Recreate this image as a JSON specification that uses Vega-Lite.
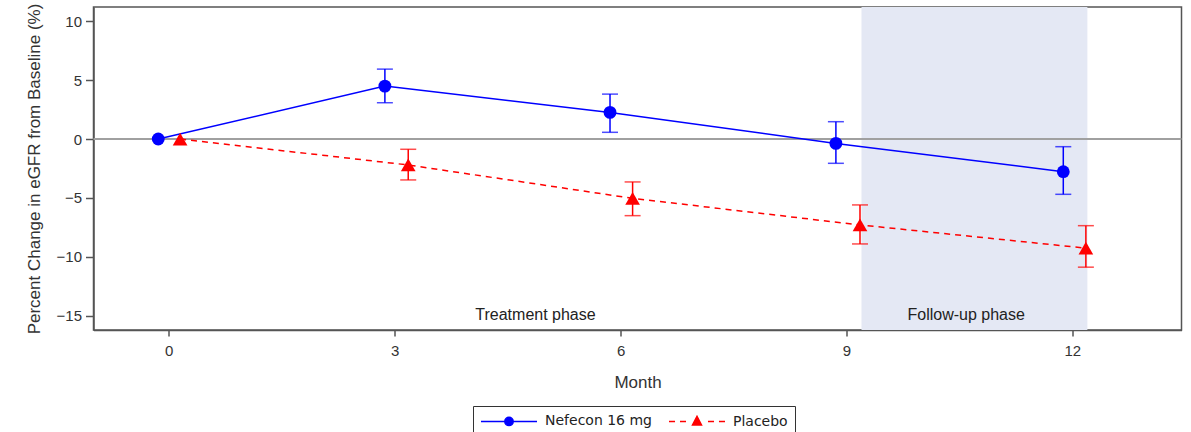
{
  "$schema": "https://vega.github.io/schema/vega-lite/v6.json",
  "width": 1088,
  "height": 323,
  "autosize": "none",
  "padding": {"left": 93.5, "top": 7, "right": 9, "bottom": 102},
  "background": "white",
  "config": {
    "view": {"stroke": "#555", "strokeWidth": 1.5},
    "font": "Liberation Sans",
    "axis": {"grid": false, "domainColor": "#555", "domainWidth": 1.5, "tickColor": "#555", "tickWidth": 1.5, "labelColor": "#333", "titleColor": "#333", "labelFont": "Liberation Sans", "titleFont": "Liberation Sans", "titleFontWeight": "normal", "labelFontSize": 15},
    "axisX": {"tickSize": 6, "labelPadding": 7, "titleFontSize": 17, "titlePadding": 16, "labelFlush": false},
    "axisY": {"tickSize": 8, "labelPadding": 4, "titleFontSize": 17, "titlePadding": 13}
  },
  "datasets": {
    "stats": [
      {"series": "Nefecon 16 mg", "month": 0, "x": -0.14, "y": 0, "lo": null, "hi": null},
      {"series": "Nefecon 16 mg", "month": 3, "x": 2.87, "y": 4.49, "lo": 3.08, "hi": 5.93},
      {"series": "Nefecon 16 mg", "month": 6, "x": 5.86, "y": 2.26, "lo": 0.57, "hi": 3.81},
      {"series": "Nefecon 16 mg", "month": 9, "x": 8.86, "y": -0.37, "lo": -2.06, "hi": 1.47},
      {"series": "Nefecon 16 mg", "month": 12, "x": 11.88, "y": -2.77, "lo": -4.69, "hi": -0.65},
      {"series": "Placebo", "month": 0, "x": 0.15, "y": 0, "lo": null, "hi": null},
      {"series": "Placebo", "month": 3, "x": 3.18, "y": -2.2, "lo": -3.47, "hi": -0.87},
      {"series": "Placebo", "month": 6, "x": 6.16, "y": -5.03, "lo": -6.5, "hi": -3.64},
      {"series": "Placebo", "month": 9, "x": 9.18, "y": -7.29, "lo": -8.9, "hi": -5.59},
      {"series": "Placebo", "month": 12, "x": 12.18, "y": -9.26, "lo": -10.87, "hi": -7.35}
    ],
    "phase": [{"x": 9.2, "x_end": 12.2}],
    "labels": [
      {"label": "Treatment phase", "x": 4.87, "y": -14.95},
      {"label": "Follow-up phase", "x": 10.59, "y": -14.95}
    ]
  },
  "layer": [
    {
      "data": {"name": "phase"},
      "mark": {"type": "rect", "color": "#e4e8f4"},
      "encoding": {
        "x": {"field": "x", "type": "quantitative", "title": "Month", "scale": {"domain": [-1, 13.45], "nice": false, "zero": false}, "axis": {"values": [0, 3, 6, 9, 12]}},
        "x2": {"field": "x_end"}
      }
    },
    {
      "data": {"name": "phase"},
      "mark": {"type": "rule", "color": "#a0a0a0", "strokeWidth": 2},
      "encoding": {
        "y": {"datum": 0, "type": "quantitative", "title": "Percent Change in eGFR from Baseline (%)", "scale": {"domain": [-16.2, 11.2], "nice": false, "zero": false}, "axis": {"values": [-15, -10, -5, 0, 5, 10]}}
      }
    },
    {
      "data": {"name": "stats"},
      "transform": [{"filter": "datum.series == 'Nefecon 16 mg'"}],
      "mark": {"type": "line", "color": "#0000ff", "strokeWidth": 1.5},
      "encoding": {
        "x": {"field": "x", "type": "quantitative", "title": "Month", "scale": {"domain": [-1, 13.45], "nice": false, "zero": false}, "axis": {"values": [0, 3, 6, 9, 12]}},
        "y": {"field": "y", "type": "quantitative", "title": "Percent Change in eGFR from Baseline (%)", "scale": {"domain": [-16.2, 11.2], "nice": false, "zero": false}, "axis": {"values": [-15, -10, -5, 0, 5, 10]}}
      }
    },
    {
      "data": {"name": "stats"},
      "transform": [{"filter": "datum.series == 'Placebo'"}],
      "mark": {"type": "line", "color": "#ff0000", "strokeWidth": 1.5, "strokeDash": [6, 5]},
      "encoding": {
        "x": {"field": "x", "type": "quantitative", "title": "Month", "scale": {"domain": [-1, 13.45], "nice": false, "zero": false}, "axis": {"values": [0, 3, 6, 9, 12]}},
        "y": {"field": "y", "type": "quantitative", "title": "Percent Change in eGFR from Baseline (%)", "scale": {"domain": [-16.2, 11.2], "nice": false, "zero": false}, "axis": {"values": [-15, -10, -5, 0, 5, 10]}}
      }
    },
    {
      "data": {"name": "stats"},
      "transform": [{"filter": "datum.lo != null"}],
      "mark": {"type": "rule", "strokeWidth": 1.5},
      "encoding": {
        "x": {"field": "x", "type": "quantitative", "title": "Month", "scale": {"domain": [-1, 13.45], "nice": false, "zero": false}, "axis": {"values": [0, 3, 6, 9, 12]}},
        "y": {"field": "lo", "type": "quantitative", "title": "Percent Change in eGFR from Baseline (%)", "scale": {"domain": [-16.2, 11.2], "nice": false, "zero": false}, "axis": {"values": [-15, -10, -5, 0, 5, 10]}},
        "y2": {"field": "hi"},
        "color": {"condition": {"test": "datum.series == 'Placebo'", "value": "#ff0000"}, "value": "#0000ff"}
      }
    },
    {
      "data": {"name": "stats"},
      "transform": [{"filter": "datum.lo != null"}],
      "mark": {"type": "tick", "orient": "horizontal", "size": 16, "thickness": 1.5},
      "encoding": {
        "x": {"field": "x", "type": "quantitative", "title": "Month", "scale": {"domain": [-1, 13.45], "nice": false, "zero": false}, "axis": {"values": [0, 3, 6, 9, 12]}},
        "y": {"field": "lo", "type": "quantitative", "title": "Percent Change in eGFR from Baseline (%)", "scale": {"domain": [-16.2, 11.2], "nice": false, "zero": false}, "axis": {"values": [-15, -10, -5, 0, 5, 10]}},
        "color": {"condition": {"test": "datum.series == 'Placebo'", "value": "#ff0000"}, "value": "#0000ff"}
      }
    },
    {
      "data": {"name": "stats"},
      "transform": [{"filter": "datum.hi != null"}],
      "mark": {"type": "tick", "orient": "horizontal", "size": 16, "thickness": 1.5},
      "encoding": {
        "x": {"field": "x", "type": "quantitative", "title": "Month", "scale": {"domain": [-1, 13.45], "nice": false, "zero": false}, "axis": {"values": [0, 3, 6, 9, 12]}},
        "y": {"field": "hi", "type": "quantitative", "title": "Percent Change in eGFR from Baseline (%)", "scale": {"domain": [-16.2, 11.2], "nice": false, "zero": false}, "axis": {"values": [-15, -10, -5, 0, 5, 10]}},
        "color": {"condition": {"test": "datum.series == 'Placebo'", "value": "#ff0000"}, "value": "#0000ff"}
      }
    },
    {
      "data": {"name": "stats"},
      "mark": {"type": "point", "filled": true, "opacity": 1},
      "encoding": {
        "x": {"field": "x", "type": "quantitative", "title": "Month", "scale": {"domain": [-1, 13.45], "nice": false, "zero": false}, "axis": {"values": [0, 3, 6, 9, 12]}},
        "y": {"field": "y", "type": "quantitative", "title": "Percent Change in eGFR from Baseline (%)", "scale": {"domain": [-16.2, 11.2], "nice": false, "zero": false}, "axis": {"values": [-15, -10, -5, 0, 5, 10]}},
        "color": {"condition": {"test": "datum.series == 'Placebo'", "value": "#ff0000"}, "value": "#0000ff"},
        "shape": {"condition": {"test": "datum.series == 'Placebo'", "value": "triangle-up"}, "value": "circle"},
        "size": {"condition": {"test": "datum.series == 'Placebo'", "value": 215}, "value": 165}
      }
    },
    {
      "data": {"name": "labels"},
      "mark": {"type": "text", "fontSize": 16, "color": "#222", "align": "center", "baseline": "middle", "font": "Liberation Sans"},
      "encoding": {
        "x": {"field": "x", "type": "quantitative", "title": "Month", "scale": {"domain": [-1, 13.45], "nice": false, "zero": false}, "axis": {"values": [0, 3, 6, 9, 12]}},
        "y": {"field": "y", "type": "quantitative", "title": "Percent Change in eGFR from Baseline (%)", "scale": {"domain": [-16.2, 11.2], "nice": false, "zero": false}, "axis": {"values": [-15, -10, -5, 0, 5, 10]}},
        "text": {"field": "label"}
      }
    },
    {
      "data": {"name": "stats"},
      "mark": {"type": "point", "filled": true, "opacity": 0},
      "encoding": {
        "x": {"field": "x", "type": "quantitative", "title": "Month", "scale": {"domain": [-1, 13.45], "nice": false, "zero": false}, "axis": {"values": [0, 3, 6, 9, 12]}},
        "y": {"field": "y", "type": "quantitative", "title": "Percent Change in eGFR from Baseline (%)", "scale": {"domain": [-16.2, 11.2], "nice": false, "zero": false}, "axis": {"values": [-15, -10, -5, 0, 5, 10]}},
        "fill": {"field": "series", "type": "nominal", "title": null, "scale": {"domain": ["Nefecon 16 mg", "Placebo"], "range": ["#0000ff", "#ff0000"]}},
        "stroke": {"field": "series", "type": "nominal", "title": null, "scale": {"domain": ["Nefecon 16 mg", "Placebo"], "range": ["#0000ff", "#ff0000"]}},
        "shape": {
          "field": "series", "type": "nominal", "title": null,
          "scale": {"domain": ["Nefecon 16 mg", "Placebo"], "range": [
            "M-1,0H7M3.6,0A0.6,0.6 0 1,1 2.4,0A0.6,0.6 0 1,1 3.6,0Z",
            "M-1,0H-0.14M0.57,0H1.43M4.57,0H5.43M6.14,0H7M3,-0.72L3.64,0.5L2.36,0.5Z"
          ]},
          "legend": {
            "orient": "none", "legendX": 379.5, "legendY": 399, "direction": "horizontal",
            "title": null, "strokeColor": "#333", "padding": 7,
            "symbolSize": 196, "symbolStrokeWidth": 1.5, "symbolOpacity": 1,
            "labelOffset": 49, "labelFont": "DejaVu Sans", "labelFontWeight": "normal", "labelFontSize": 14, "labelColor": "#222",
            "columnPadding": 13
          }
        }
      }
    }
  ]
}
